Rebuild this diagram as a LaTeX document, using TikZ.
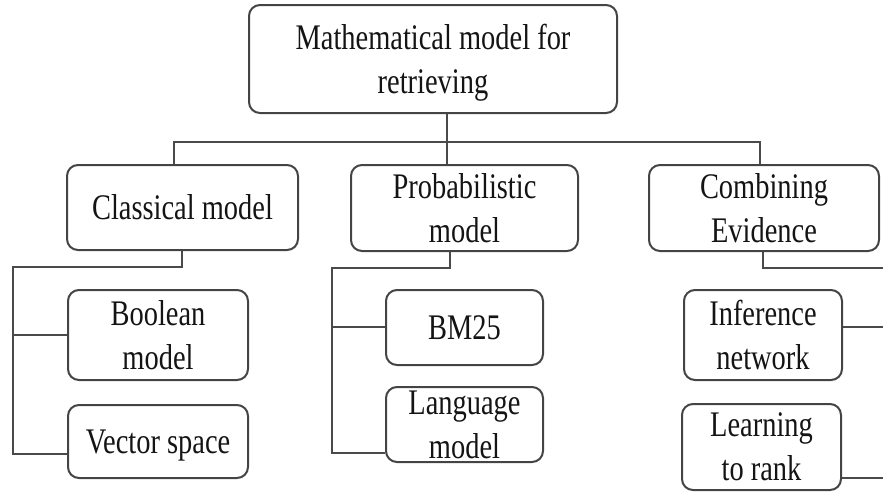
\documentclass[tikz,border=0pt]{standalone}
\usepackage{fontspec}
\setmainfont[FakeStretch=0.79]{Liberation Serif}
\definecolor{boxc}{HTML}{444444}
\definecolor{linec}{HTML}{4A4A4A}
\begin{document}
\begin{tikzpicture}[x=1pt,y=-1pt,
  box/.style={draw=boxc, line width=2pt, rounded corners=11pt, inner sep=0pt,
    align=center, text depth=0pt, text=black!92, font=\fontsize{36}{44}\selectfont},
  conn/.style={draw=linec, line width=2pt}]
\useasboundingbox (0,0) rectangle (883,493);
% boxes
\node[box, minimum width=368pt, minimum height=108pt] (top) at (433,59) {Mathematical model for\\retrieving};
\node[box, minimum width=231pt, minimum height=85pt] (cls) at (182.5,207.5) {Classical model};
\node[box, minimum width=227pt, minimum height=86pt] (prob) at (464.5,208) {Probabilistic\\model};
\node[box, minimum width=230pt, minimum height=86pt] (comb) at (764,208) {Combining\\Evidence};
\node[box, minimum width=180pt, minimum height=90pt] (bool) at (158,335) {Boolean\\model};
\node[box, minimum width=180pt, minimum height=73pt] (vec) at (158,441.5) {Vector space};
\node[box, minimum width=157pt, minimum height=75pt] (bm) at (464.5,327.5) {BM25};
\node[box, minimum width=157pt, minimum height=75pt] (lang) at (464.5,424.5) {Language\\model};
\node[box, minimum width=158pt, minimum height=90pt] (inf) at (763,335) {Inference\\network};
\node[box, minimum width=159pt, minimum height=86pt] (ltr) at (761.5,447) {Learning\\to rank};
% top bus
\coordinate (busL) at (174,142);
\coordinate (busM) at (447,142);
\coordinate (busR) at (760,142);
\draw[conn] (top.south -| busM) -- (busM);
\draw[conn] (cls.north -| busL) -- (busL) -- (busR) -- (comb.north -| busR);
\draw[conn] (busM) -- (prob.north -| busM);
% classical branch
\coordinate (cA) at (182,267);
\coordinate (cL) at (13,267);
\coordinate (cB) at (13,335);
\coordinate (cV) at (13,454);
\draw[conn] (cls.south -| cA) -- (cA) -- (cL) -- (cV) -- (vec.west |- cV);
\draw[conn] (cB) -- (bool.west |- cB);
% probabilistic branch
\coordinate (pA) at (450,268);
\coordinate (pL) at (332,268);
\coordinate (pB) at (332,327);
\coordinate (pV) at (332,453);
\draw[conn] (prob.south -| pA) -- (pA) -- (pL) -- (pV) -- (lang.west |- pV);
\draw[conn] (pB) -- (bm.west |- pB);
% combining branch
\coordinate (eA) at (763,268);
\coordinate (eR) at (886,268);
\coordinate (eI) at (886,327);
\coordinate (eT) at (886,478);
\draw[conn] (comb.south -| eA) -- (eA) -- (eR);
\draw[conn] (inf.east |- eI) -- (eI);
\draw[conn] (ltr.east |- eT) -- (eT);
\end{tikzpicture}
\end{document}
